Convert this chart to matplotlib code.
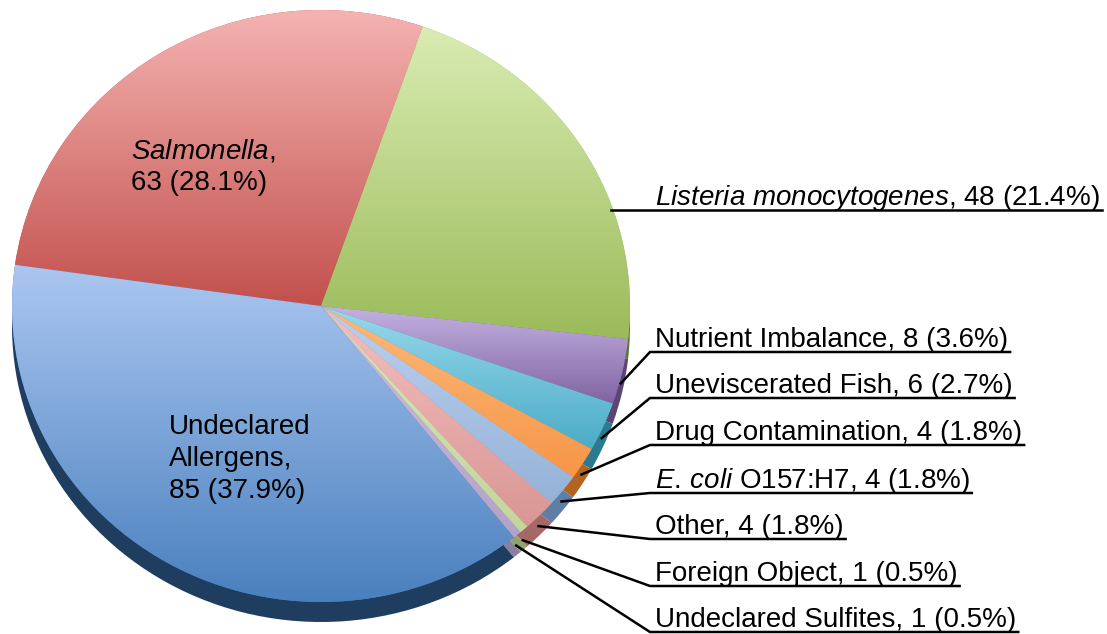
import numpy as np
import matplotlib
matplotlib.use("Agg")
import matplotlib.pyplot as plt
from matplotlib.colors import to_rgb

plt.rcParams["font.family"] = "Liberation Sans"
plt.rcParams["mathtext.fontset"] = "custom"
plt.rcParams["mathtext.rm"] = "Liberation Sans"
plt.rcParams["mathtext.it"] = "Liberation Sans:italic"

# data
categories = ["Salmonella", "Listeria monocytogenes", "Nutrient Imbalance",
              "Uneviscerated Fish", "Drug Contamination", "E. coli O157:H7",
              "Other", "Foreign Object", "Undeclared Sulfites",
              "Undeclared Allergens"]
label_names = [r"$\mathit{Salmonella}$",
               r"$\mathit{Listeria}$ $\mathit{monocytogenes}$",
               "Nutrient Imbalance", "Uneviscerated Fish", "Drug Contamination",
               r"$\mathit{E.\,coli}$ O157:H7", "Other", "Foreign Object",
               "Undeclared Sulfites", "Undeclared Allergens"]
counts = [63, 48, 8, 6, 4, 4, 4, 1, 1, 85]
percents = [28.1, 21.4, 3.6, 2.7, 1.8, 1.8, 1.8, 0.5, 0.5, 37.9]

# slice colours: light (top of slice), dark (bottom of slice), side face
top_colors = ["#f4b3b1", "#d9ecb3", "#c3b2e0", "#98d9ec", "#fbb97c",
              "#bcd0f0", "#f3bfbe", "#d7e4bd", "#ccc1da", "#abc7f1"]
bottom_colors = ["#c2504c", "#9bbb59", "#8064a2", "#4bacc6", "#f79646",
                 "#95b3d7", "#d99694", "#c3d69b", "#b3a2c7", "#4a80be"]
side_colors = ["#7d302d", "#5f7535", "#5a4575", "#2b7b90", "#b3651f",
               "#5f7ea6", "#a56866", "#8fa36b", "#8c7ea1", "#1f3d5f"]

W, H = 1107, 634
cx, cy = 321, 306          # pie centre in pixels (from top)
rx, ry = 309, 296          # ellipse radii in pixels
depth = 20                 # thickness of the pie side
sy = rx / ry               # y stretch so that a circle becomes an ellipse


def to_data(px, py):
    return px, (H - py) * sy


fig = plt.figure(figsize=(W / 100, H / 100), dpi=100)
ax = fig.add_axes([0, 0, 1, 1])

center_top = to_data(cx, cy)
center_side = to_data(cx, cy + depth)

# side of the 3D pie
ax.pie(counts, colors=side_colors, startangle=172, counterclock=False,
       radius=rx, center=center_side, wedgeprops=dict(linewidth=0, zorder=1))
# top face
wedges, _ = ax.pie(counts, colors=bottom_colors, startangle=172,
                   counterclock=False, radius=rx, center=center_top,
                   wedgeprops=dict(linewidth=0, zorder=2))

# vertical gradient on every slice
for w, c0, c1 in zip(wedges, top_colors, bottom_colors):
    ext = w.get_path().get_extents()
    t = np.linspace(0, 1, 256)[:, None]
    a, b = np.array(to_rgb(c0)), np.array(to_rgb(c1))
    grad = (b * (1 - t) + a * t)[:, None, :]   # origin lower: bottom row = dark
    im = ax.imshow(grad, extent=[ext.x0, ext.x1, ext.y0, ext.y1],
                   origin="lower", aspect="auto", zorder=3,
                   interpolation="bilinear")
    im.set_clip_path(w)

ax.set_xlim(0, W)
ax.set_ylim(0, H * sy)
ax.set_aspect("auto")
ax.axis("off")

fs = 20
labels = [f"{n}, {c} ({p}%)" for n, c, p in zip(label_names, counts, percents)]

# labels inside the pie (baseline given for the last line)
ax.text(*to_data(131, 190), r"$\mathit{Salmonella}$," + "\n" +
        f"{counts[0]} ({percents[0]}%)", fontsize=fs, ha="left",
        va="baseline", zorder=5, linespacing=1.3)
ax.text(*to_data(169, 498), "Undeclared\nAllergens,\n" +
        f"{counts[9]} ({percents[9]}%)", fontsize=fs, ha="left",
        va="baseline", zorder=5, linespacing=1.3)

# labels outside, with leader lines
text_x = 655
line_x = 650
rows_y = [352, 398, 445, 493, 539, 586, 632]

texts = []
lis = ax.text(*to_data(text_x, 205), labels[1], fontsize=fs, ha="left",
              va="baseline", zorder=5)
texts.append((lis, 210, None))
for i, uy in zip(range(2, 9), rows_y):
    t = ax.text(*to_data(text_x, uy - 5), labels[i], fontsize=fs, ha="left",
                va="baseline", zorder=5)
    texts.append((t, uy, wedges[i]))

fig.canvas.draw()
inv = ax.transData.inverted()
for t, uy, w in texts:
    bb = t.get_window_extent()
    x_end = inv.transform((bb.x1 + 2, 0))[0]
    yd = to_data(0, uy)[1]
    if w is None:
        # Listeria: horizontal line from the rim of the pie
        dy = (cy - uy) / ry
        x_rim = cx + rx * np.sqrt(1 - dy ** 2) - 2
        ax.plot([x_rim, x_end], [yd, yd], color="black", lw=1.8, zorder=6)
        continue
    mid = np.deg2rad((w.theta1 + w.theta2) / 2)
    ax_x = cx + rx * np.cos(mid) * 0.995
    ax_y = center_top[1] + rx * np.sin(mid) * 0.995 - depth * 0.6 * sy
    ax.plot([ax_x, line_x, x_end], [ax_y, yd, yd], color="black", lw=1.8,
            zorder=6, solid_joinstyle="miter")

fig.savefig("out.png", dpi=100, facecolor="white")
